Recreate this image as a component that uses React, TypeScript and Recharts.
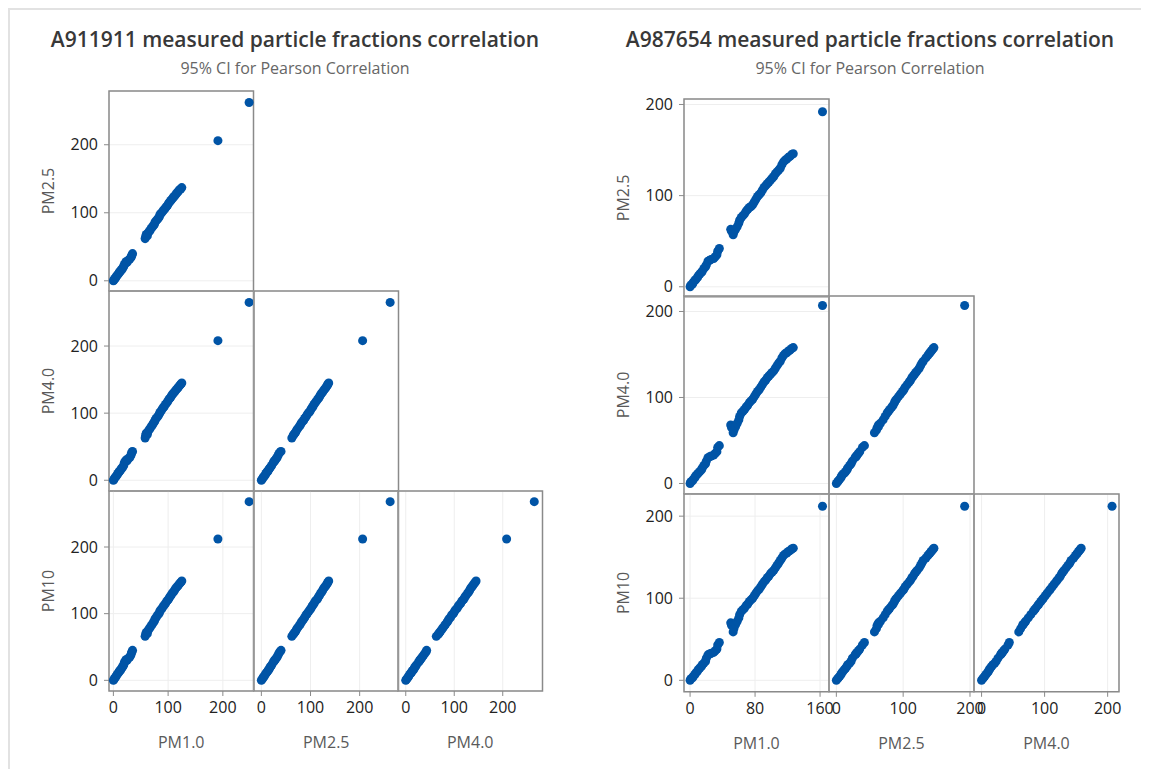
import { ScatterChart, Scatter, XAxis, YAxis, CartesianGrid, ReferenceArea } from 'recharts'

// A911911 – one entry per sample
const a911Pm1 = [0, 1, 2, 4, 5, 7, 8, 10, 11, 13, 14, 16, 17, 19, 20, 22, 23, 25, 27, 30, 32, 33, 34, 35,
  58, 59, 60, 62, 63, 65, 67, 69, 71, 73, 75, 76, 78, 80, 82, 84, 85, 87, 89, 91, 93, 95, 97, 99, 101, 103,
  105, 107, 109, 111, 113, 115, 117, 119, 121, 123, 125, 191, 248]
const a911Pm25 = [0, 1, 3, 4, 6, 8, 9, 11, 13, 14, 16, 17, 19, 21, 24, 26, 28, 27, 30, 32, 34, 36, 38, 40,
  62, 65, 68, 66, 70, 72, 74, 77, 79, 81, 83, 86, 88, 90, 92, 94, 97, 99, 101, 103, 105, 107, 109, 111, 114, 116,
  118, 120, 122, 124, 126, 128, 130, 132, 134, 135, 137, 206, 262]
const a911Pm4 = [0, 1, 3, 5, 6, 8, 10, 12, 13, 15, 17, 18, 20, 22, 26, 28, 30, 29, 32, 34, 37, 40, 42, 43,
  63, 67, 70, 68, 72, 75, 77, 80, 82, 85, 87, 89, 92, 94, 96, 99, 101, 103, 106, 108, 110, 113, 115, 117, 120, 122,
  124, 127, 129, 131, 133, 135, 137, 139, 141, 143, 145, 208, 265]
const a911Pm10 = [0, 1, 3, 5, 6, 9, 10, 12, 14, 15, 17, 19, 21, 23, 27, 29, 31, 30, 33, 35, 38, 41, 43, 45,
  66, 69, 72, 70, 74, 77, 79, 82, 84, 87, 89, 92, 94, 97, 99, 101, 104, 106, 108, 111, 113, 115, 118, 120, 122, 125,
  127, 130, 132, 134, 137, 139, 141, 143, 145, 147, 149, 212, 268]

// A987654 – one entry per sample
const a987Pm1 = [0, 1, 3, 4, 6, 7, 9, 10, 12, 14, 15, 17, 19, 20, 22, 24, 26, 29, 31, 33, 34, 36,
  50, 51, 53, 54, 56, 58, 60, 61, 63, 65, 67, 69, 71, 73, 75, 77, 79, 81, 83, 85, 87, 89, 91, 93,
  95, 97, 99, 101, 103, 105, 107, 109, 111, 113, 115, 117, 119, 121, 123, 125, 127, 163]
const a987Pm25 = [0, 2, 3, 5, 7, 8, 10, 12, 14, 16, 17, 20, 22, 24, 28, 29, 30, 31, 33, 35, 39, 42,
  63, 61, 57, 60, 63, 66, 70, 73, 76, 78, 80, 83, 85, 87, 88, 90, 93, 96, 99, 101, 103, 106, 109, 111,
  113, 115, 117, 119, 121, 124, 126, 128, 130, 134, 137, 139, 140, 142, 143, 145, 146, 192]
const a987Pm4 = [0, 2, 3, 5, 7, 9, 11, 12, 14, 16, 18, 21, 23, 26, 30, 31, 32, 33, 35, 37, 42, 44,
  68, 65, 59, 62, 66, 70, 74, 78, 82, 84, 86, 89, 91, 94, 96, 98, 101, 104, 107, 109, 112, 115, 118, 120,
  123, 125, 127, 129, 131, 134, 137, 140, 142, 146, 149, 151, 152, 154, 155, 157, 158, 207]
const a987Pm10 = [0, 2, 3, 5, 7, 9, 11, 13, 15, 17, 19, 21, 23, 27, 31, 32, 33, 34, 36, 38, 43, 46,
  70, 67, 59, 63, 68, 72, 76, 80, 84, 86, 88, 91, 93, 96, 98, 100, 103, 106, 109, 111, 114, 117, 120, 122,
  125, 127, 130, 132, 134, 137, 140, 143, 146, 149, 152, 154, 155, 157, 158, 160, 161, 212]

const KEYS = ['pm1', 'pm25', 'pm4', 'pm10']
const NAMES = ['PM1.0', 'PM2.5', 'PM4.0', 'PM10']

const a911Domains = [[-8, 256], [-15, 279], [-16, 282], [-16, 284]]
const a911Ticks = [[0, 100, 200], [0, 100, 200], [0, 100, 200], [0, 100, 200]]
const a987Domains = [[-7.5, 171], [-11, 206], [-12, 218], [-14, 227]]
const a987Ticks = [[0, 80, 160], [0, 100, 200], [0, 100, 200], [0, 100, 200]]

const a911Rows = a911Pm1.map((v, i) => ({ pm1: v, pm25: a911Pm25[i], pm4: a911Pm4[i], pm10: a911Pm10[i] }))
const a987Rows = a987Pm1.map((v, i) => ({ pm1: v, pm25: a987Pm25[i], pm4: a987Pm4[i], pm10: a987Pm10[i] }))

const FONT = '"Open Sans", "Noto Sans", sans-serif'
const DOT = '#0054a6'
const FRAME = '#8a8a8a'
const GRID = '#eeeeee'

const AXIS_W = 90
const AXIS_H = 62
const PAD_T = 10
const PAD_R = 20

type PanelProps = {
  rows: Record<string, number>[]
  xKey: string
  yKey: string
  xDomain: number[]
  yDomain: number[]
  xTicks: number[]
  yTicks: number[]
  xTitle: string | null
  yTitle: string | null
  left: number
  top: number
  w: number
  h: number
}

function Panel({ rows, xKey, yKey, xDomain, yDomain, xTicks, yTicks, xTitle, yTitle, left, top, w, h }: PanelProps) {
  const tickStyle = { fontSize: 16, fill: '#222', fontFamily: FONT }
  const titleStyle = { textAnchor: 'middle', fontSize: 16, fill: '#5a5a5a', fontFamily: FONT }
  return (
    <div style={{ position: 'absolute', left: left - AXIS_W, top: top - PAD_T }}>
      <ScatterChart
        width={w + AXIS_W + PAD_R}
        height={h + AXIS_H + PAD_T}
        margin={{ top: PAD_T, right: PAD_R, bottom: 0, left: 0 }}
      >
        <CartesianGrid stroke={GRID} />
        <XAxis
          type="number"
          dataKey={xKey}
          domain={xDomain}
          ticks={xTicks}
          interval={0}
          height={AXIS_H}
          axisLine={false}
          tick={xTitle ? tickStyle : false}
          tickLine={xTitle ? { stroke: FRAME } : false}
          tickSize={5}
          tickMargin={6}
          label={xTitle ? { value: xTitle, position: 'insideBottom', offset: 5, style: titleStyle } : undefined}
        />
        <YAxis
          type="number"
          dataKey={yKey}
          domain={yDomain}
          ticks={yTicks}
          interval={0}
          width={AXIS_W}
          axisLine={false}
          tick={yTitle ? tickStyle : false}
          tickLine={yTitle ? { stroke: FRAME } : false}
          tickSize={5}
          tickMargin={6}
          label={yTitle ? { value: yTitle, angle: -90, position: 'insideLeft', offset: 29, style: titleStyle } : undefined}
        />
        <ReferenceArea
          x1={xDomain[0]}
          x2={xDomain[1]}
          y1={yDomain[0]}
          y2={yDomain[1]}
          fill="none"
          stroke={FRAME}
          strokeWidth={1.5}
          ifOverflow="visible"
        />
        <Scatter data={rows} fill={DOT} isAnimationActive={false} />
      </ScatterChart>
    </div>
  )
}

type MatrixProps = {
  title: string
  rows: Record<string, number>[]
  domains: number[][]
  ticks: number[][]
  left: number
  top: number
  w: number
  h: number
  cx: number
}

function Matrix({ title, rows, domains, ticks, left, top, w, h, cx }: MatrixProps) {
  const panels = []
  for (let r = 0; r < 3; r++) {
    for (let c = 0; c <= r; c++) {
      const yi = r + 1
      const xi = c
      panels.push(
        <Panel
          key={`${r}-${c}`}
          rows={rows}
          xKey={KEYS[xi]}
          yKey={KEYS[yi]}
          xDomain={domains[xi]}
          yDomain={domains[yi]}
          xTicks={ticks[xi]}
          yTicks={ticks[yi]}
          xTitle={r === 2 ? NAMES[xi] : null}
          yTitle={c === 0 ? NAMES[yi] : null}
          left={left + c * w}
          top={top + r * h}
          w={w}
          h={h}
        />
      )
    }
  }
  return (
    <>
      <div style={{ position: 'absolute', left: cx - 300, top: 18, width: 600, textAlign: 'center', fontFamily: FONT, fontSize: 21, fontWeight: 600, lineHeight: '26px', color: '#383838' }}>
        {title}
      </div>
      <div style={{ position: 'absolute', left: cx - 300, top: 50, width: 600, textAlign: 'center', fontFamily: FONT, fontSize: 16, lineHeight: '20px', color: '#666' }}>
        95% CI for Pearson Correlation
      </div>
      {panels}
    </>
  )
}

export default function App() {
  return (
    <div style={{ position: 'relative', width: 1141, height: 761, background: '#fff' }}>
      <div style={{ position: 'absolute', left: 0, top: 0, width: 1141, height: 761, borderTop: '2px solid #e2e2e2', borderLeft: '2px solid #e2e2e2', boxSizing: 'border-box' }} />
      <Matrix title="A911911 measured particle fractions correlation" rows={a911Rows} domains={a911Domains} ticks={a911Ticks}
        left={101} top={83} w={144.5} h={200} cx={287} />
      <Matrix title="A987654 measured particle fractions correlation" rows={a987Rows} domains={a987Domains} ticks={a987Ticks}
        left={676} top={90.5} w={145} h={197.8} cx={862} />
    </div>
  )
}
